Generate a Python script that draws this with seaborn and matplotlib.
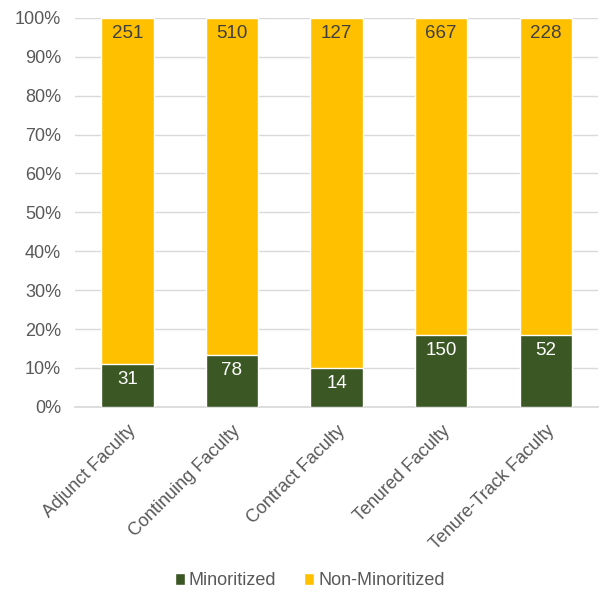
import pandas as pd
import numpy as np
import matplotlib.pyplot as plt
import seaborn as sns

# counts per faculty group
categories = ["Adjunct Faculty", "Continuing Faculty", "Contract Faculty",
              "Tenured Faculty", "Tenure-Track Faculty"]
minoritized = [31, 78, 14, 150, 52]
non_minoritized = [251, 510, 127, 667, 228]

df = pd.DataFrame({"group": categories,
                   "minor": minoritized,
                   "non": non_minoritized})
df["total"] = df["minor"] + df["non"]
df["minor_pct"] = df["minor"] / df["total"] * 100
df["top_pct"] = (df["minor"] + df["non"]) / df["total"] * 100

sns.set_theme(style="white")
plt.rcParams['font.family'] = ['Liberation Sans', 'DejaVu Sans']

green = "#3A5724"
yellow = "#FFC000"
grey = "#595959"

fig = plt.figure(figsize=(6.01, 5.94), dpi=100)
ax = fig.add_axes([0.125, 0.315, 0.87, 0.655])

sns.barplot(data=df, x="group", y="top_pct", color=yellow, width=0.5,
            saturation=1, ax=ax, label="Non-Minoritized", zorder=2)
sns.barplot(data=df, x="group", y="minor_pct", color=green, width=0.5,
            saturation=1, ax=ax, label="Minoritized", zorder=3)

# labels at inside end
for i, row in df.iterrows():
    ax.annotate(str(row["minor"]), (i, row["minor_pct"]), xytext=(0, -5),
                textcoords="offset points", ha="center", va="top",
                color="white", fontsize=13.5, zorder=4)
    ax.annotate(str(row["non"]), (i, row["top_pct"]), xytext=(0, -5),
                textcoords="offset points", ha="center", va="top",
                color="#404040", fontsize=13.5, zorder=4)

ax.set_ylim(0, 100)
ax.set_xlim(-0.5, 4.5)
ax.set_yticks(np.arange(0, 101, 10))
ax.set_yticklabels([f"{v}%" for v in range(0, 101, 10)])
ax.yaxis.grid(True, color="#D9D9D9", linewidth=1, zorder=0)
ax.set_axisbelow(True)
ax.set_xlabel("")
ax.set_ylabel("")
for s in ["top", "right", "left"]:
    ax.spines[s].set_visible(False)
ax.spines["bottom"].set_color("#D9D9D9")
ax.tick_params(axis="y", length=0, labelsize=13, labelcolor=grey, pad=10)
ax.tick_params(axis="x", length=0, labelsize=13, labelcolor=grey, pad=11)
plt.setp(ax.get_xticklabels(), rotation=45, ha="right", rotation_mode="anchor")

handles, labels = ax.get_legend_handles_labels()
if ax.get_legend() is not None:
    ax.get_legend().remove()
order = [labels.index("Minoritized"), labels.index("Non-Minoritized")]
fig.legend([handles[k] for k in order], [labels[k] for k in order],
           loc="center", bbox_to_anchor=(0.515, 0.022), ncol=2, frameon=False,
           fontsize=13, handlelength=0.6, handleheight=0.6,
           handletextpad=0.2, columnspacing=1.5, labelcolor=grey)

fig.savefig("out.png", dpi=100)
